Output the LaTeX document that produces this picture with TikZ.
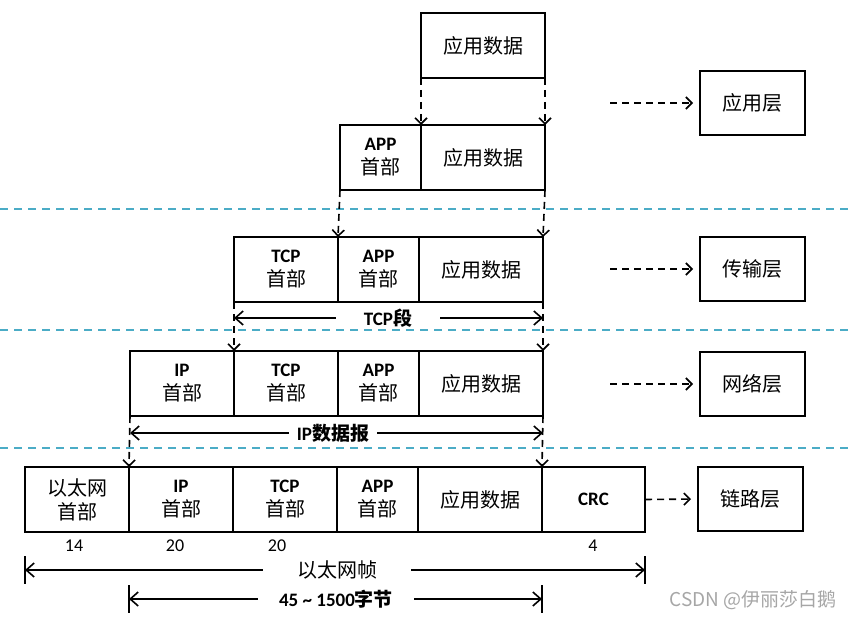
\documentclass[tikz,border=0pt]{standalone}
\usepackage{fontspec}
\setmainfont{Carlito}
\newfontfamily\cjk{Noto Sans CJK SC}
\usetikzlibrary{arrows.meta,positioning}

\definecolor{sepblue}{RGB}{75,172,198}
\newcommand{\hd}[1]{\textbf{#1}\\{\cjk\fontsize{20}{24}\selectfont 首部}}
\newcommand{\yysj}{{\cjk\fontsize{20}{24}\selectfont 应用数据}}

\tikzset{
  seg/.style={draw, line width=2pt, outer sep=0pt, inner sep=0pt, minimum height=65pt, align=center, font=\fontsize{19}{24}\selectfont},
  hdr/.style={seg, minimum width=104pt},
  app/.style={seg, minimum width=81pt},
  dat/.style={seg, minimum width=124pt},
  layer/.style={seg, minimum width=105pt, minimum height=64pt, font=\cjk\fontsize{20}{24}\selectfont},
  drop/.style={line width=1.6pt, dash pattern=on 7pt off 5pt, -{Straight Barb[length=6pt,width=12pt]}},
  golayer/.style={drop, shorten >=7pt},
  layerline/.style={sepblue, line width=1.6pt, dash pattern=on 8pt off 6pt},
  dimline/.style={line width=1.6pt, -{Straight Barb[length=8pt,width=14pt]}},
  endtick/.style={line width=1.6pt},
  dimlabel/.style={inner ysep=0pt, font=\bfseries\fontsize{19}{20}\selectfont},
  size/.style={font=\fontsize{18}{20}\selectfont},
}

\begin{document}
\begin{tikzpicture}[x=1pt,y=-1pt]
\useasboundingbox (0,0) rectangle (854,620);

% layer separators
\foreach \y in {209,330,448}
  \draw[layerline] (0,\y) -- (854,\y);

% application data
\node[dat, anchor=north west] (d1) at (421,13) {\yysj};

% + APP header
\node[app, anchor=north west] (a2) at (340,125) {\hd{APP}};
\node[dat, right=0pt of a2] (d2) {\yysj};

% + TCP header
\node[hdr, anchor=north west] (t3) at (234,237) {\hd{TCP}};
\node[app, right=0pt of t3] (a3) {\hd{APP}};
\node[dat, right=0pt of a3] (d3) {\yysj};

% + IP header
\node[hdr, anchor=north west] (i4) at (130,351) {\hd{IP}};
\node[hdr, right=0pt of i4] (t4) {\hd{TCP}};
\node[app, right=0pt of t4] (a4) {\hd{APP}};
\node[dat, right=0pt of a4] (d4) {\yysj};

% + ethernet header and CRC
\node[hdr, anchor=north west, font=\cjk\fontsize{20}{24}\selectfont] (e5) at (25,467) {以太网\\首部};
\node[hdr, right=0pt of e5] (i5) {\hd{IP}};
\node[hdr, right=0pt of i5] (t5) {\hd{TCP}};
\node[app, right=0pt of t5] (a5) {\hd{APP}};
\node[dat, right=0pt of a5] (d5) {\yysj};
\node[hdr, minimum width=103pt, right=0pt of d5] (c5) {\textbf{CRC}};

% layer names
\node[layer, anchor=north west] (lapp) at (700,71) {应用层};
\node[layer, anchor=north west] (ltrans) at (700,237) {传输层};
\node[layer, anchor=north west] (lnet) at (700,352) {网络层};
\node[layer, anchor=north west] (llink) at (698,467) {链路层};

\draw[golayer] ([xshift=-90pt]lapp.west) -- (lapp.west);
\draw[golayer] ([xshift=-90pt]ltrans.west) -- (ltrans.west);
\draw[golayer] ([xshift=-90pt]lnet.west) -- (lnet.west);
\draw[golayer] (c5.east) -- (llink.west);

% encapsulation
\draw[drop] (d1.south west) -- (d2.north west);
\draw[drop] (d1.south east) -- (d2.north east);
\draw[drop] (a2.south west) -- (a3.north west);
\draw[drop] (d2.south east) -- (d3.north east);
\draw[drop] (t3.south west) -- (t4.north west);
\draw[drop] (d3.south east) -- (d4.north east);
\draw[drop] (i4.south west) -- (i5.north west);
\draw[drop] (d4.south east) -- (d5.north east);

% sizes
\node[size] (n14) at (74,546) {14};
\node[size] (n20a) at (175,546) {20};
\node[size] (n20b) at (277,546) {20};
\node[size] (n4) at (593,546) {4};

% spans
\node[dimlabel, inner xsep=28pt] (ltcp) at (388,318) {TCP{\cjk\bfseries 段}};
\draw[dimline] (ltcp.west) -- (t3.south west |- ltcp);
\draw[dimline] (ltcp.east) -- (d3.south east |- ltcp);

\node[dimlabel, inner xsep=8pt] (lip) at (333,433) {IP{\cjk\bfseries 数据报}};
\draw[dimline] (lip.west) -- (i4.south west |- lip);
\draw[dimline] (lip.east) -- (d4.south east |- lip);

\node[dimlabel, inner xsep=34pt, font=\cjk\fontsize{20}{20}\selectfont] (leth) at (337,570) {以太网帧};
\draw[dimline] (leth.west) -- (e5.south west |- leth);
\draw[dimline] (leth.east) -- (c5.south east |- leth);
\draw[endtick] (e5.south west |- leth) +(0,-14) -- +(0,14);
\draw[endtick] (c5.south east |- leth) +(0,-14) -- +(0,14);

\node[dimlabel, inner xsep=21pt] (lbyte) at (336,599) {45 \textasciitilde{} 1500{\cjk\bfseries 字节}};
\draw[dimline] (lbyte.west) -- (i5.south west |- lbyte);
\draw[dimline] (lbyte.east) -- (d5.south east |- lbyte);
\draw[endtick] (i5.south west |- lbyte) +(0,-14) -- +(0,14);
\draw[endtick] (d5.south east |- lbyte) +(0,-14) -- +(0,14);

\node[text=gray!70, font=\cjk\fontsize{19}{20}\selectfont] (mark) at (753,600) {CSDN @伊丽莎白鹅};
\end{tikzpicture}
\end{document}
